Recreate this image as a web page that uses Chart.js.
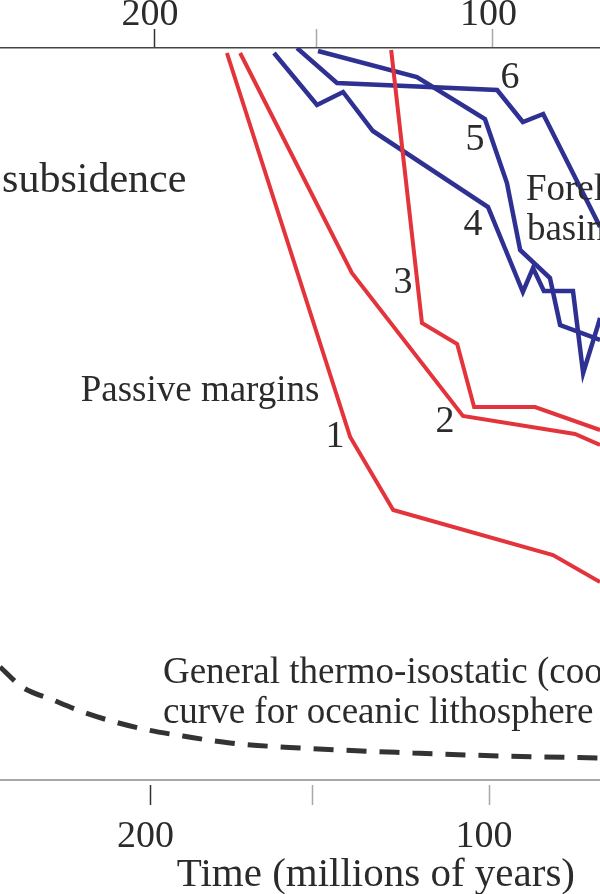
<!DOCTYPE html>
<html>
<head>
<meta charset="utf-8">
<script src="https://cdn.jsdelivr.net/npm/chart.js@4"></script>
<style>
  body { margin: 0; background: #fff; }
  #wrap { width: 600px; height: 894px; }
</style>
</head>
<body>
<div id="wrap"><canvas id="myChart"></canvas></div>
<script>
// time in millions of years (x), depth of subsidence in km below the top axis (y)
const tickValues = [200, 152, 100];
const tickLabels = ['200', '', '100'];

// passive margins (red)
const age1 = [177.4, 141.0, 128.3, 81.1, 67.2];
const depth1 = [0.05, 3.89, 4.62, 5.07, 5.34];
const age2 = [173.5, 140.5, 107.7, 74.6, 67.2];
const depth2 = [0.05, 2.25, 3.68, 3.86, 3.97];
const age3 = [128.9, 119.8, 109.4, 104.4, 86.4, 67.2];
const depth3 = [0.02, 2.75, 2.96, 3.59, 3.59, 3.82];

// foreland basins (blue)
const age4 = [163.5, 150.8, 143.1, 134.3, 100.3, 90.0, 87.0, 83.8, 75.2, 72.2, 67.8, 67.2];
const depth4 = [0.05, 0.57, 0.44, 0.83, 1.59, 2.44, 2.20, 2.43, 2.43, 3.25, 2.77, 2.70];
const age5 = [150.5, 121.3, 101.2, 94.7, 90.8, 82.0, 79.0, 67.2];
const depth5 = [0.03, 0.29, 0.71, 1.35, 2.02, 2.30, 2.77, 2.92];
const age6 = [156.7, 144.9, 97.6, 90.0, 84.0, 67.2];
const depth6 = [0.00, 0.35, 0.42, 0.74, 0.66, 1.79];

// thermo-isostatic cooling curve (dashed)
const coolAge = [244.4, 237.9, 228.8, 219.9, 210.5, 200.7, 190.4, 176.5, 155.8, 122.4, 96.8, 67.2];
const coolDepth = [6.19, 6.39, 6.52, 6.64, 6.74, 6.82, 6.88, 6.95, 7.00, 7.05, 7.08, 7.10];

// text on the chart, placed at (age, depth)
const notes = [
    { text: 'subsidence', t: 243.8, d: 1.44, size: 42, align: 'left' },
    { text: 'Passive margins', t: 220.6, d: 3.53, size: 37, align: 'left' },
    { text: '1', t: 145.5, d: 3.99, size: 38, align: 'center' },
    { text: '2', t: 113.0, d: 3.84, size: 38, align: 'center' },
    { text: '3', t: 125.4, d: 2.45, size: 38, align: 'center' },
    { text: '4', t: 104.7, d: 1.87, size: 38, align: 'center' },
    { text: '5', t: 104.1, d: 1.02, size: 38, align: 'center' },
    { text: '6', t: 93.8, d: 0.40, size: 38, align: 'center' },
    { text: 'Foreland', t: 89.1, d: 1.52, size: 37, align: 'left' },
    { text: 'basins', t: 88.8, d: 1.92, size: 37, align: 'left' },
    { text: 'General thermo-isostatic (cooling)', t: 196.3, d: 6.35, size: 37, align: 'left' },
    { text: 'curve for oceanic lithosphere', t: 196.3, d: 6.75, size: 37, align: 'left' },
    { text: 'Time (millions of years)', t: 133.4, d: 8.38, size: 41, align: 'center' }
];

const pairs = (ages, depths) => ages.map((a, i) => ({ x: a, y: depths[i] }));

const red = '#e4343b';
const blue = '#2e3192';
const serif = 'Liberation Serif';

const redLine = (ages, depths) => ({
    data: pairs(ages, depths), borderColor: red, borderWidth: 4,
    pointRadius: 0, borderJoinStyle: 'miter', tension: 0
});
const blueLine = (ages, depths) => ({
    data: pairs(ages, depths), borderColor: blue, borderWidth: 4.5,
    pointRadius: 0, borderJoinStyle: 'miter', tension: 0
});

// writes the labels using the chart scales
const notesPlugin = {
    id: 'notes',
    afterDraw(chart) {
        const c = chart.ctx;
        const sx = chart.scales.x, sy = chart.scales.y;
        c.save();
        c.fillStyle = '#2b2b2b';
        c.textBaseline = 'alphabetic';
        notes.forEach(n => {
            c.font = n.size + 'px "' + serif + '"';
            c.textAlign = n.align;
            c.fillText(n.text, sx.getPixelForValue(n.t), sy.getPixelForValue(n.d));
        });
        c.restore();
    }
};

const tickColor = ctx => (ctx.tick && ctx.tick.value === 200) ? '#333' : '#a8a8a8';
const setTicks = s => { s.ticks = tickValues.map(v => ({ value: v })); };
const labelFor = v => tickLabels[tickValues.indexOf(v)] || '';

var ctx = document.getElementById('myChart').getContext('2d');

var chart = new Chart(ctx, {
    type: 'line',
    data: {
        datasets: [
            redLine(age1, depth1),
            redLine(age2, depth2),
            redLine(age3, depth3),
            blueLine(age4, depth4),
            blueLine(age5, depth5),
            blueLine(age6, depth6),
            {
                data: pairs(coolAge, coolDepth), borderColor: '#333', borderWidth: 5,
                borderDash: [20, 13], pointRadius: 0, cubicInterpolationMode: 'monotone'
            }
        ]
    },
    options: {
        responsive: true,
        maintainAspectRatio: false,
        animation: false,
        layout: { padding: 0 },
        plugins: { legend: { display: false }, tooltip: { enabled: false } },
        scales: {
            x: {
                type: 'linear', position: 'bottom', reverse: true,
                min: 67.22, max: 244.42,
                afterBuildTicks: setTicks,
                afterFit: s => { s.height = 114; },
                border: { display: true, color: '#a8a8a8', width: 2 },
                grid: {
                    drawOnChartArea: false, tickLength: 25, tickWidth: 1.5,
                    tickColor: tickColor, tickBorderDash: [0, 4, 20, 100]
                },
                ticks: {
                    font: { family: serif, size: 38 }, color: '#2b2b2b',
                    padding: 9, labelOffset: -5, maxRotation: 0, autoSkip: false,
                    callback: labelFor
                }
            },
            xTop: {
                type: 'linear', position: 'top', reverse: true,
                min: 68.24, max: 245.5,
                afterBuildTicks: setTicks,
                afterFit: s => { s.height = 48; },
                border: { display: true, color: '#444', width: 1.5 },
                grid: { drawOnChartArea: false, tickLength: 19, tickWidth: 1.5, tickColor: tickColor },
                ticks: {
                    font: { family: serif, size: 38 }, color: '#2b2b2b',
                    padding: -9, labelOffset: -4, maxRotation: 0, autoSkip: false,
                    callback: labelFor
                }
            },
            y: {
                type: 'linear', display: false, reverse: true, min: 0, max: 7.32
            }
        }
    },
    plugins: [notesPlugin]
});
</script>
</body>
</html>
